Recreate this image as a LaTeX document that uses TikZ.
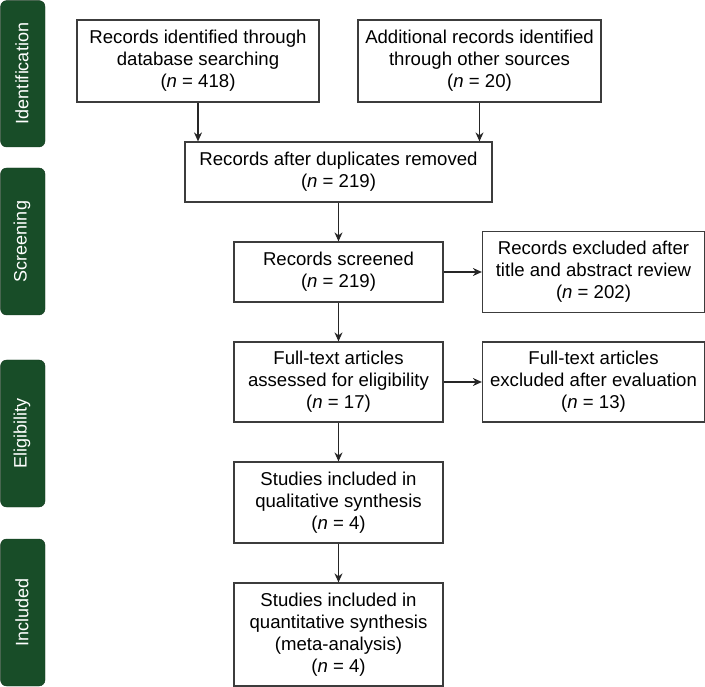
\documentclass[tikz,border=0pt]{standalone}
\usepackage{fontspec}
\setmainfont{Liberation Sans}
\usetikzlibrary{arrows.meta}
\definecolor{bargreen}{RGB}{24,77,40}
\definecolor{boxline}{RGB}{60,60,60}
\tikzset{
  stagebar/.style={fill=bargreen,draw=bargreen!70!black,rounded corners=6pt},
  stagetext/.style={text=white,rotate=90,font=\fontsize{18}{21}\selectfont,inner sep=0pt},
  flowbox/.style={draw=boxline,line width=1.2pt,fill=white,align=center,inner sep=0pt,
    font=\fontsize{18.6}{22}\selectfont},
  flowarrow/.style={draw=black!85,line width=1.2pt,-{Stealth[length=9pt,width=8pt]}}
}
\newcommand{\nn}{(\textit{n} = }
\begin{document}
\begin{tikzpicture}[x=1pt,y=-1pt]
\useasboundingbox (0,0) rectangle (705,687);
% stage bars
\draw[stagebar] (0.6,0.6) rectangle (45,147);
\node[stagetext] (sid) at (22,73.5) {Identification};
\draw[stagebar] (0.6,168) rectangle (45,315);
\node[stagetext] (ssc) at (22,241.5) {Screening};
\draw[stagebar] (0.6,360) rectangle (45,507);
\node[stagetext] (sel) at (22,433.5) {Eligibility};
\draw[stagebar] (0.6,539) rectangle (45,686);
\node[stagetext] (sin) at (22,612.5) {Included};
% boxes
\node[flowbox,minimum width=242pt,minimum height=82pt] (a) at (198,61)
  {Records identified through\\database searching\\\nn 418)};
\node[flowbox,minimum width=243pt,minimum height=82pt] (b) at (479.5,61)
  {Additional records identified\\through other sources\\\nn 20)};
\node[flowbox,minimum width=307pt,minimum height=60pt] (c) at (338.5,172)
  {Records after duplicates removed\\\nn 219)};
\node[flowbox,minimum width=209pt,minimum height=60pt] (d) at (338.5,272)
  {Records screened\\\nn 219)};
\node[flowbox,minimum width=222pt,minimum height=81pt] (e) at (593.5,272)
  {Records excluded after\\title and abstract review\\\nn 202)};
\node[flowbox,minimum width=209pt,minimum height=80pt] (f) at (338.5,382)
  {Full-text articles\\assessed for eligibility\\\nn 17)};
\node[flowbox,minimum width=222pt,minimum height=80pt] (g) at (593.5,382)
  {Full-text articles\\excluded after evaluation\\\nn 13)};
\node[flowbox,minimum width=209pt,minimum height=81pt] (h) at (338.5,502.5)
  {Studies included in\\qualitative synthesis\\\nn 4)};
\node[flowbox,minimum width=209pt,minimum height=103pt] (i) at (338.5,634.5)
  {Studies included in\\quantitative synthesis\\(meta-analysis)\\\nn 4)};
% arrows
\draw[flowarrow] (a.south) -- (a.south |- c.north);
\draw[flowarrow] (b.south) -- (b.south |- c.north);
\draw[flowarrow] (c) -- (d);
\draw[flowarrow] (d) -- (e);
\draw[flowarrow] (d) -- (f);
\draw[flowarrow] (f) -- (g);
\draw[flowarrow] (f) -- (h);
\draw[flowarrow] (h) -- (i);
\end{tikzpicture}
\end{document}
